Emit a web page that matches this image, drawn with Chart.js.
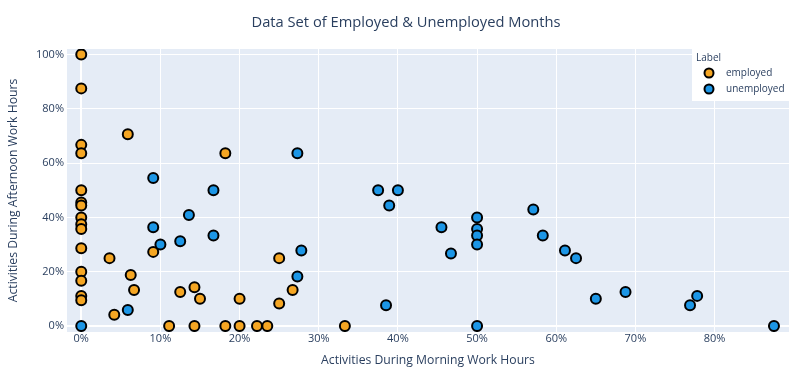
<!DOCTYPE html>
<html>
<head>
<meta charset="utf-8">
<script src="https://cdn.jsdelivr.net/npm/chart.js@4"></script>
<style>
  html, body { margin: 0; padding: 0; background: #fff; }
</style>
</head>
<body>
<canvas id="scatter-canvas" width="800" height="372"></canvas>
<script>
const scatterCanvas = document.querySelector("#scatter-canvas");

const chartTitle = "Data Set of Employed & Unemployed Months";
const seriesLabels = ["employed", "unemployed"];
const seriesColors = ["#F5A623", "#1C96E6"];

const employedMorning = [0, 0, 0.0588, 0, 0, 0.182, 0, 0, 0, 0, 0, 0, 0, 0.0357, 0.0909, 0, 0, 0, 0,
  0.0625, 0.0667, 0.0417, 0.125, 0.143, 0.15, 0.2, 0.25, 0.25, 0.267,
  0.111, 0.143, 0.182, 0.2, 0.222, 0.235, 0.333];
const employedAfternoon = [1.0, 0.875, 0.706, 0.667, 0.636, 0.636, 0.5, 0.455, 0.444, 0.4, 0.375, 0.357, 0.286, 0.25, 0.273, 0.2, 0.167, 0.111, 0.095,
  0.1875, 0.133, 0.0417, 0.125, 0.143, 0.1, 0.1, 0.25, 0.083, 0.133,
  0, 0, 0, 0, 0, 0, 0];

const unemployedMorning = [0, 0.0909, 0.167, 0.273, 0.375, 0.4, 0.136, 0.0909, 0.1, 0.125, 0.167, 0.0588,
  0.278, 0.273, 0.389, 0.385, 0.455, 0.467, 0.5, 0.5, 0.5, 0.5, 0.5,
  0.571, 0.583, 0.611, 0.625, 0.65, 0.6875, 0.769, 0.778, 0.875];
const unemployedAfternoon = [0, 0.545, 0.5, 0.636, 0.5, 0.5, 0.409, 0.364, 0.3, 0.3125, 0.333, 0.0588,
  0.278, 0.182, 0.444, 0.0769, 0.364, 0.267, 0.4, 0.357, 0.333, 0.3, 0,
  0.429, 0.333, 0.278, 0.25, 0.1, 0.125, 0.0769, 0.111, 0];

const xTicks = [0, 0.1, 0.2, 0.3, 0.4, 0.5, 0.6, 0.7, 0.8];
const yTicks = [0, 0.2, 0.4, 0.6, 0.8, 1.0];

const textColor = "#2a3f5f";
const fontFamily = "'Open Sans', Verdana, Arial, sans-serif";

function toPoints(xs, ys) {
  return xs.map((x, i) => ({ x: x, y: ys[i] }));
}

function pct(v) {
  return Math.round(v * 100) + "%";
}

const plotBackground = {
  id: "plotBackground",
  beforeDraw(chart) {
    const { ctx, chartArea } = chart;
    ctx.save();
    ctx.fillStyle = "#E5ECF6";
    ctx.fillRect(chartArea.left, chartArea.top, chartArea.right - chartArea.left, chartArea.bottom - chartArea.top);
    ctx.fillStyle = textColor;
    ctx.font = "14.7px " + fontFamily;
    ctx.textAlign = "center";
    ctx.textBaseline = "middle";
    ctx.fillText(chartTitle, 406, 23);
    ctx.restore();
  },
};

const boxLegend = {
  id: "boxLegend",
  afterDraw(chart) {
    const { ctx, chartArea } = chart;
    const x0 = chartArea.right - 97;
    const y0 = chartArea.top;
    ctx.save();
    ctx.fillStyle = "#ffffff";
    ctx.fillRect(x0, y0, 98, 52);
    ctx.fillStyle = textColor;
    ctx.font = "10px " + fontFamily;
    ctx.textBaseline = "middle";
    ctx.textAlign = "left";
    ctx.fillText("Label", x0 + 4, y0 + 9);
    chart.data.datasets.forEach((ds, i) => {
      const cy = y0 + 24 + i * 16;
      ctx.beginPath();
      ctx.arc(x0 + 17, cy, 4.5, 0, Math.PI * 2);
      ctx.fillStyle = ds.backgroundColor;
      ctx.fill();
      ctx.lineWidth = 2;
      ctx.strokeStyle = "#000";
      ctx.stroke();
      ctx.fillStyle = textColor;
      ctx.fillText(ds.label, x0 + 34, cy);
    });
    ctx.restore();
  },
};

const data = {
  datasets: [
    {
      label: seriesLabels[0],
      data: toPoints(employedMorning, employedAfternoon),
      backgroundColor: seriesColors[0],
      borderColor: "#000",
      borderWidth: 2,
      pointRadius: 5,
      order: 2,
    },
    {
      label: seriesLabels[1],
      data: toPoints(unemployedMorning, unemployedAfternoon),
      backgroundColor: seriesColors[1],
      borderColor: "#000",
      borderWidth: 2,
      pointRadius: 5,
      order: 1,
    },
  ],
};

new Chart(scatterCanvas, {
  type: "scatter",
  data: data,
  plugins: [plotBackground, boxLegend],
  options: {
    responsive: false,
    animation: false,
    devicePixelRatio: 1,
    layout: { padding: { left: 0, right: 0, top: 49, bottom: 0 } },
    plugins: {
      legend: { display: false },
      tooltip: { enabled: false },
      title: { display: false },
    },
    scales: {
      x: {
        type: "linear",
        min: -0.018,
        max: 0.894,
        afterBuildTicks(scale) {
          scale.ticks = xTicks.map((v) => ({ value: v }));
        },
        afterFit(scale) {
          scale.height = 40;
        },
        grid: {
          color: "#ffffff",
          lineWidth: (c) => (c.tick && c.tick.value === 0 ? 2 : 1),
          drawTicks: false,
        },
        border: { display: false },
        ticks: {
          color: textColor,
          font: { family: fontFamily, size: 11 },
          padding: 0,
          callback: (v) => pct(v),
        },
        title: {
          display: true,
          text: "Activities During Morning Work Hours",
          color: textColor,
          font: { family: fontFamily, size: 12.2 },
          padding: { top: 0, bottom: 4 },
        },
      },
      y: {
        type: "linear",
        min: -0.022,
        max: 1.02,
        afterBuildTicks(scale) {
          scale.ticks = yTicks.map((v) => ({ value: v }));
        },
        afterFit(scale) {
          scale.width = 67;
        },
        grid: {
          color: "#ffffff",
          lineWidth: (c) => (c.tick && c.tick.value === 0 ? 2 : 1),
          drawTicks: false,
        },
        border: { display: false },
        ticks: {
          color: textColor,
          font: { family: fontFamily, size: 11 },
          padding: 3,
          callback: (v) => pct(v),
        },
        title: {
          display: true,
          text: "Activities During Afternoon Work Hours",
          color: textColor,
          font: { family: fontFamily, size: 12.2 },
          padding: { top: 6, bottom: 0 },
        },
      },
      y2: {
        type: "linear",
        position: "right",
        display: true,
        grid: { display: false, drawTicks: false },
        border: { display: false },
        ticks: { display: false },
        afterFit(scale) {
          scale.width = 11;
        },
      },
    },
  },
});
</script>
</body>
</html>
